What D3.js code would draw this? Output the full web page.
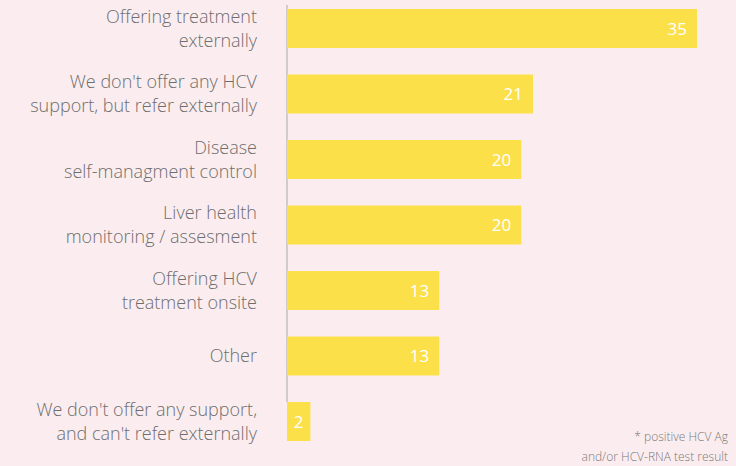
<!DOCTYPE html>
<meta charset="utf-8">
<style>
  body { margin: 0; background: #fbedef; }
  text { font-family: "Open Sans", "Liberation Sans", Arial, sans-serif; }
</style>
<body>
<script src="https://d3js.org/d3.v7.min.js"></script>
<script>
  var categories = [
    ["Offering treatment", "externally"],
    ["We don't offer any HCV", "support, but refer externally"],
    ["Disease", "self-managment control"],
    ["Liver health", "monitoring / assesment"],
    ["Offering HCV", "treatment onsite"],
    ["Other"],
    ["We don't offer any support,", "and can't refer externally"]
  ];
  var values = [35, 21, 20, 20, 13, 13, 2];
  var footnote = ["* positive HCV Ag", "and/or HCV-RNA test result"];

  var width = 736, height = 466;

  var svg = d3.select("body").append("svg")
    .attr("width", width)
    .attr("height", height);

  svg.append("rect").attr("width", width).attr("height", height).attr("fill", "#fbedef");

  var x = d3.scaleLinear()
    .domain([0, 35])
    .range([287, 697]);

  var y = d3.scaleBand()
    .domain(d3.range(values.length))
    .range([9, 441])
    .paddingInner(0.405)
    .paddingOuter(0);

  // axis line only, no ticks
  svg.append("line")
    .attr("x1", x(0)).attr("x2", x(0))
    .attr("y1", 5).attr("y2", y(values.length - 1))
    .attr("stroke", "#a9a9a9")
    .attr("stroke-width", 1);

  var bar = svg.selectAll(".bar")
    .data(values)
    .enter()
    .append("g")
    .attr("class", "bar");

  bar.append("rect")
    .attr("x", x(0))
    .attr("y", function (d, i) { return y(i); })
    .attr("width", function (d) { return x(d) - x(0); })
    .attr("height", y.bandwidth())
    .attr("fill", "#fce04a");

  bar.append("text")
    .attr("x", function (d) { return d < 5 ? (x(0) + x(d)) / 2 : x(d) - 10; })
    .attr("y", function (d, i) { return y(i) + y.bandwidth() / 2; })
    .attr("dy", "0.36em")
    .attr("text-anchor", function (d) { return d < 5 ? "middle" : "end"; })
    .attr("fill", "#fff")
    .attr("font-size", 17)
    .attr("font-weight", 500)
    .text(function (d) { return d; });

  var lineH = 24;
  var labels = svg.selectAll(".label")
    .data(categories)
    .enter()
    .append("text")
    .attr("class", "label")
    .attr("text-anchor", "end")
    .attr("fill", "#6e6e6e")
    .attr("font-size", 18)
    .attr("font-weight", 300);

  labels.selectAll("tspan")
    .data(function (d, i) {
      return d.map(function (t, j) { return { t: t, j: j, n: d.length, i: i }; });
    })
    .enter()
    .append("tspan")
    .attr("x", 257)
    .attr("y", function (d) {
      return y(d.i) + y.bandwidth() / 2 + (d.j - (d.n - 1) / 2) * lineH;
    })
    .attr("dy", "0.35em")
    .text(function (d) { return d.t; });

  svg.append("text")
    .attr("text-anchor", "end")
    .attr("fill", "#7a7a7a")
    .attr("font-size", 12)
    .attr("font-weight", 300)
    .selectAll("tspan")
    .data(footnote)
    .enter()
    .append("tspan")
    .attr("x", 728)
    .attr("y", function (d, i) { return 441 + i * 20; })
    .text(function (d) { return d; });
</script>
</body>
